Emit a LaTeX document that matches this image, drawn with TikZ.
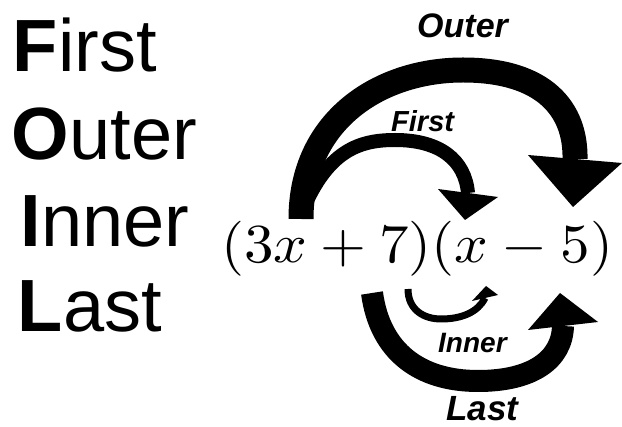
\documentclass[tikz,border=0pt]{standalone}
\usepackage{fontspec}
\usepackage{graphicx}
\setmainfont{Liberation Sans}
\begin{document}
\begin{tikzpicture}[x=1pt,y=-1pt,
  word/.style={anchor=base west,inner sep=0pt,font=\fontsize{74}{80}\selectfont},
  lab/.style={anchor=base west,inner sep=0pt,font=\bfseries\itshape},
  shaft/.style={draw=black,line cap=butt},
  head/.style={fill=black,draw=none}]
\useasboundingbox[fill=white] (0,0) rectangle (622,427);
% left words
\node[word] (w1) at (12.6,72) {\textbf{F}irst};
\node[word] (w2) at (11.8,160) {\textbf{O}uter};
\node[word] (w3) at (20.3,247) {\textbf{I}nner};
\node[word] (w4) at (17.6,332) {\textbf{L}ast};
% equation
\node[anchor=base west,inner sep=0pt] (eq) at (221,263) {\scalebox{5.9}[5.5]{$(3x+7)(x-5)$}};
% labels
\node[lab,font=\bfseries\itshape\fontsize{34}{40}\selectfont] (lo) at (417,38) {Outer};
\node[lab,font=\bfseries\itshape\fontsize{29}{34}\selectfont] (lf) at (391,132) {First};
\node[lab,font=\bfseries\itshape\fontsize{28}{34}\selectfont] (li) at (438,353) {Inner};
\node[lab,font=\bfseries\itshape\fontsize{35}{40}\selectfont] (ll) at (446,421) {Last};
% coordinates
\coordinate (os) at (301,219);
\coordinate (oe) at (575,159);
\coordinate (fs) at (305,205);
\coordinate (fe) at (468,193);
\coordinate (is) at (408,289);
\coordinate (ie) at (485,298);
\coordinate (ls) at (372,293);
\coordinate (le) at (563,326);
% outer arrow
\draw[shaft,line width=25pt] (os) .. controls (301,120) and (380,70) .. (463,70)
  .. controls (545,70) and (576,110) .. (oe);
\fill[head] (528,155) -- (622,163) -- (573,207) -- cycle;
% first arrow
\draw[shaft,line width=14pt] (fs) .. controls (330,150) and (360,140) .. (395,140)
  .. controls (440,140) and (465,160) .. (fe);
\fill[head] (438,189) -- (498,197) -- (465,220) -- cycle;
% inner arrow
\draw[shaft,line width=7pt] (is) .. controls (408,310) and (424,319) .. (441,319)
  .. controls (462,319) and (478,312) .. (ie);
\fill[head] (472,301) -- (498,295) -- (486,286) -- cycle;
% last arrow
\draw[shaft,line width=22pt] (ls) .. controls (380,352) and (420,381) .. (478,381)
  .. controls (532,381) and (562,360) .. (le);
\fill[head] (528,330) -- (598,322) -- (560,293) -- cycle;
\end{tikzpicture}
\end{document}
